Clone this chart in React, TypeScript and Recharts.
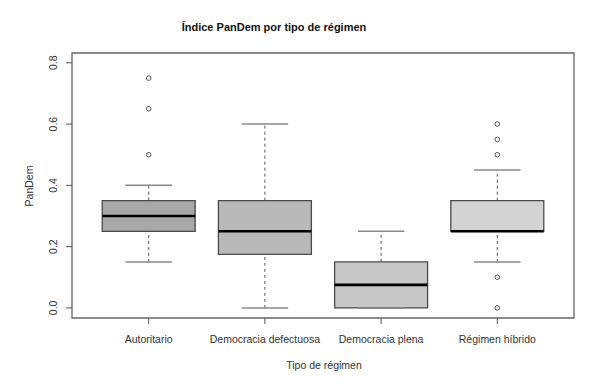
import React from 'react';
import {
  ComposedChart, XAxis, YAxis, ReferenceArea, ReferenceLine, Scatter, Label,
} from 'recharts';

const categories = ['Autoritario', 'Democracia defectuosa', 'Democracia plena', 'Régimen híbrido'];
const q1 = [0.25, 0.175, 0.0, 0.25];
const medians = [0.30, 0.25, 0.075, 0.25];
const q3 = [0.35, 0.35, 0.15, 0.35];
const whiskerLow = [0.15, 0.0, 0.0, 0.15];
const whiskerHigh = [0.40, 0.60, 0.25, 0.45];
const outliers: number[][] = [
  [0.5, 0.65, 0.75],
  [],
  [],
  [0.0, 0.1, 0.5, 0.55, 0.6],
];
const yTicks = [0, 0.2, 0.4, 0.6, 0.8];
const boxFills = ['#a8a8a8', '#b9b9b9', '#c7c7c7', '#d3d3d3'];

const FONT = '"Liberation Sans", Arial, sans-serif';
const BOX_HALF = 0.4;
const CAP_HALF = 0.2;

const positions = categories.map((_, i) => i + 1);
const outlierPoints = outliers.flatMap((vals, i) => vals.map((v) => ({ x: i + 1, y: v })));

const XTick = (props: any) => {
  const { x, payload } = props;
  return (
    <text x={x} y={343} textAnchor="middle" fontSize={10.5} fontFamily={FONT} fill="#333">
      {categories[payload.value - 1]}
    </text>
  );
};

const YTick = (props: any) => {
  const { y, payload } = props;
  return (
    <text
      x={53}
      y={y}
      dy="0.36em"
      transform={`rotate(-90, 53, ${y})`}
      textAnchor="middle"
      fontSize={10.5}
      fontFamily={FONT}
      fill="#333"
    >
      {payload.value.toFixed(1)}
    </text>
  );
};

const Outlier = (props: any) => {
  const { cx, cy } = props;
  return <circle cx={cx} cy={cy} r={2.3} fill="#fff" stroke="#555" strokeWidth={1} />;
};

export default function App() {
  return (
    <div style={{ position: 'absolute', left: 0, top: 0, width: 615, height: 386, background: '#fff' }}>
      <div
        style={{
          position: 'absolute', left: 124, width: 300, top: 19, textAlign: 'center',
          fontFamily: FONT, fontWeight: 'bold', fontSize: 11, color: '#111', lineHeight: '16px',
        }}
      >
        Índice PanDem por tipo de régimen
      </div>
      <ComposedChart width={615} height={386} margin={{ top: 53, right: 41, bottom: 0, left: 0 }}>
        <XAxis
          type="number"
          dataKey="x"
          domain={[0.34, 4.66]}
          ticks={positions}
          allowDataOverflow
          axisLine={false}
          tickLine={{ stroke: '#555' }}
          tickSize={6}
          tick={<XTick />}
          height={68}
        >
          <Label
            content={() => (
              <text x={324} y={369} textAnchor="middle" fontSize={10.5} fontFamily={FONT} fill="#333">
                Tipo de régimen
              </text>
            )}
          />
        </XAxis>
        <YAxis
          type="number"
          domain={[-0.033, 0.832]}
          ticks={yTicks}
          allowDataOverflow
          axisLine={false}
          tickLine={{ stroke: '#555' }}
          tickSize={6}
          tick={<YTick />}
          width={72}
        >
          <Label
            content={() => (
              <text
                x={29}
                y={186}
                dy="0.36em"
                transform="rotate(-90, 29, 186)"
                textAnchor="middle"
                fontSize={10.5}
                fontFamily={FONT}
                fill="#333"
              >
                PanDem
              </text>
            )}
          />
        </YAxis>

        {positions.map((p, i) => (
          <ReferenceArea
            key={`box-${i}`}
            x1={p - BOX_HALF}
            x2={p + BOX_HALF}
            y1={q1[i]}
            y2={q3[i]}
            fill={boxFills[i]}
            fillOpacity={1}
            stroke="#4a4a4a"
            strokeWidth={1.3}
            ifOverflow="visible"
          />
        ))}
        {positions.map((p, i) => (
          <ReferenceLine
            key={`wh-${i}`}
            segment={[{ x: p, y: q3[i] }, { x: p, y: whiskerHigh[i] }]}
            stroke="#555"
            strokeDasharray="3 3"
            strokeWidth={1}
            ifOverflow="visible"
          />
        ))}
        {positions.map((p, i) => (
          <ReferenceLine
            key={`wl-${i}`}
            segment={[{ x: p, y: whiskerLow[i] }, { x: p, y: q1[i] }]}
            stroke="#555"
            strokeDasharray="3 3"
            strokeWidth={1}
            ifOverflow="visible"
          />
        ))}
        {positions.map((p, i) => (
          <ReferenceLine
            key={`ch-${i}`}
            segment={[{ x: p - CAP_HALF, y: whiskerHigh[i] }, { x: p + CAP_HALF, y: whiskerHigh[i] }]}
            stroke="#8a8a8a"
            strokeWidth={1.5}
            ifOverflow="visible"
          />
        ))}
        {positions.map((p, i) => (
          <ReferenceLine
            key={`cl-${i}`}
            segment={[{ x: p - CAP_HALF, y: whiskerLow[i] }, { x: p + CAP_HALF, y: whiskerLow[i] }]}
            stroke="#8a8a8a"
            strokeWidth={1.5}
            ifOverflow="visible"
          />
        ))}
        {positions.map((p, i) => (
          <ReferenceLine
            key={`md-${i}`}
            segment={[{ x: p - BOX_HALF, y: medians[i] }, { x: p + BOX_HALF, y: medians[i] }]}
            stroke="#000"
            strokeWidth={2.6}
            ifOverflow="visible"
          />
        ))}
        <ReferenceArea
          x1={0.34}
          x2={4.66}
          y1={-0.033}
          y2={0.832}
          fill="none"
          stroke="#666"
          strokeWidth={1.3}
          ifOverflow="visible"
        />
        <Scatter data={outlierPoints} dataKey="y" shape={<Outlier />} isAnimationActive={false} />
      </ComposedChart>
    </div>
  );
}
